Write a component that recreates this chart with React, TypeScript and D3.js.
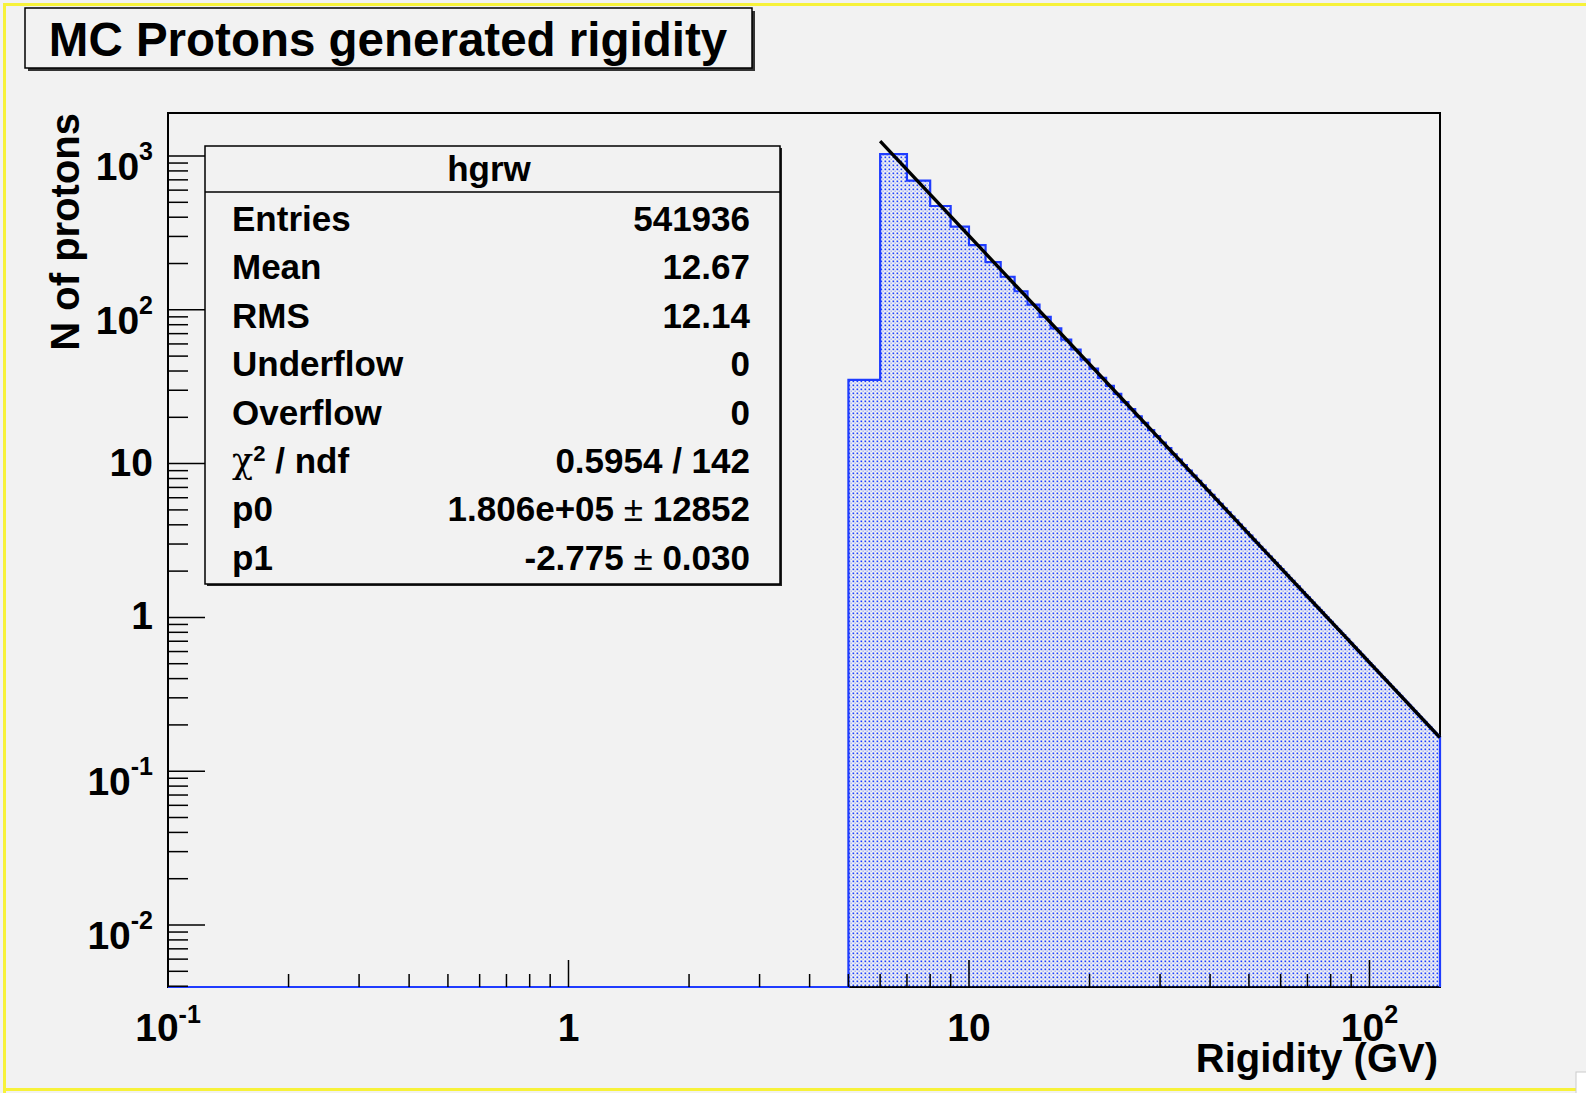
import React from "react";
import * as d3 from "d3";

// histogram hgrw: 1 GV wide bins starting at 0 GV
const title = "MC Protons generated rigidity";
const xTitle = "Rigidity (GV)";
const yTitle = "N of protons";
const firstBin = 0;
const binWidth = 1;
const counts = [
    0, 0, 0, 0, 0, 35,
    1030, 691, 473, 347, 263, 204, 164, 132, 108, 90.1,
    75.8, 64.0, 55.2, 47.4, 41.5, 36.1, 32.0, 28.4, 25.1, 22.6,
    20.3, 18.4, 16.5, 15.1, 13.7, 12.6, 11.5, 10.6, 9.78, 9.0,
    8.36, 7.73, 7.21, 6.69, 6.26, 5.84, 5.48, 5.12, 4.82, 4.52,
    4.27, 4.01, 3.8, 3.58, 3.4, 3.2, 3.05, 2.88, 2.75, 2.6,
    2.49, 2.36, 2.26, 2.15, 2.06, 1.96, 1.88, 1.79, 1.73, 1.64,
    1.59, 1.51, 1.46, 1.39, 1.35, 1.29, 1.25, 1.19, 1.16, 1.11,
    1.08, 1.03, 1.0, 0.96, 0.934, 0.896, 0.873, 0.838, 0.817, 0.785,
    0.766, 0.736, 0.719, 0.691, 0.676, 0.65, 0.636, 0.612, 0.599, 0.577,
    0.565, 0.545, 0.534, 0.515, 0.505, 0.487, 0.478, 0.462, 0.453, 0.438,
    0.43, 0.416, 0.408, 0.395, 0.388, 0.376, 0.369, 0.358, 0.351, 0.341,
    0.335, 0.325, 0.32, 0.31, 0.305, 0.296, 0.291, 0.283, 0.279, 0.271,
    0.267, 0.259, 0.255, 0.248, 0.245, 0.238, 0.235, 0.228, 0.225, 0.219,
    0.216, 0.21, 0.208, 0.202, 0.199, 0.194, 0.192, 0.187, 0.184, 0.18,
    0.177, 0.173, 0.171, 0.167,
];

// power law fit p0 * x^p1
const fitRange = [6, 150];
const fitP0 = 1.806e5;
const fitP1 = -2.775;

const statsName = "hgrw";
const statsLabels = ["Entries", "Mean", "RMS", "Underflow", "Overflow", "chi", "p0", "p1"];
const statsValues = ["541936", "12.67", "12.14", "0", "0", "0.5954 / 142", "1.806e+05 ± 12852", "-2.775 ± 0.030"];

const xTicks = [0.1, 1, 10, 100];
const xTickBase = ["10", "1", "10", "10"];
const xTickExp = ["-1", "", "", "2"];
const yTicks = [0.01, 0.1, 1, 10, 100, 1000];
const yTickBase = ["10", "10", "1", "10", "10", "10"];
const yTickExp = ["-2", "-1", "", "", "2", "3"];

const W = 1586;
const H = 1093;
const FONT = "'Liberation Sans', Arial, Helvetica, sans-serif";
const left = 168, right = 1440, top = 113, bottom = 987;

const x = d3.scaleLog().domain([0.1, 150]).range([left, right]);
const y = d3.scaleLog().domain([0.003953, 1904]).range([bottom, top]);

function minorTicks(scale) {
    const [a, b] = scale.domain();
    const out = [];
    for (let k = Math.floor(Math.log10(a)); k <= Math.ceil(Math.log10(b)); k++) {
        for (let m = 2; m <= 9; m++) {
            const v = m * Math.pow(10, k);
            if (v > a && v < b) out.push(v);
        }
    }
    return out;
}

export default function App() {
    const [xmin, xmax] = x.domain();
    const ymin = y.domain()[0];
    const pts = counts.map((v, i) => [Math.max(firstBin + i * binWidth, xmin), Math.max(v, ymin)]);
    const lastHi = firstBin + counts.length * binWidth;
    pts.push([Math.min(lastHi, xmax), Math.max(counts[counts.length - 1], ymin)]);
    const outlinePts = [...pts, [Math.min(lastHi, xmax), ymin]];

    const line = d3.line().x((d) => x(d[0])).y((d) => y(d[1])).curve(d3.curveStepAfter);
    const area = d3.area().x((d) => x(d[0])).y0(bottom).y1((d) => y(d[1])).curve(d3.curveStepAfter);
    const fitLine = d3.line().x((d) => x(d)).y((d) => y(fitP0 * Math.pow(d, fitP1)));

    const rowY = (i) => 231 + i * 48.4;

    return (
        <svg width={W} height={H} style={{ position: "absolute", left: 0, top: 0 }} fontFamily={FONT} fontWeight="bold">
            <defs>
                <pattern id="dots" width={4} height={4} patternUnits="userSpaceOnUse">
                    <rect x={0.5} y={0.5} width={1.7} height={1.7} fill="#1b40ff" />
                    <rect x={2.6} y={2.6} width={1.1} height={1.1} fill="#6a82ff" />
                </pattern>
                <clipPath id="frame">
                    <rect x={left} y={top - 40} width={right - left + 2} height={bottom - top + 42} />
                </clipPath>
            </defs>
            <rect width={W} height={H} fill="#f2f2f2" />
            <rect x={3} y={3} width={W} height={3} fill="#f7f23a" />
            <rect x={3} y={3} width={3} height={H} fill="#f7f23a" />
            <rect x={3} y={1088} width={1573} height={3} fill="#f7f23a" />
            <rect x={1576} y={1072} width={12} height={24} fill="#fff" stroke="#ccc" />

            {/* frame */}
            <rect x={left} y={top} width={right - left} height={bottom - top} fill="none" stroke="#000" strokeWidth={2} />

            {/* histogram */}
            <g clipPath="url(#frame)">
                <path d={area(pts)} fill="url(#dots)" />
                <path d={line(outlinePts)} fill="none" stroke="#1f3cff" strokeWidth={2.2} />
                <path d={fitLine(fitRange)} fill="none" stroke="#000" strokeWidth={3.4} />
            </g>

            {/* x axis ticks */}
            {minorTicks(x).map((v) => (
                <line key={"xm" + v} x1={x(v)} x2={x(v)} y1={bottom} y2={bottom - 13} stroke="#000" strokeWidth={1.5} />
            ))}
            {xTicks.map((v, i) => (
                <g key={"xt" + v}>
                    <line x1={x(v)} x2={x(v)} y1={bottom} y2={bottom - 27} stroke="#000" strokeWidth={1.5} />
                    <text x={x(v)} y={1041} textAnchor="middle" fontSize={39}>
                        {xTickBase[i]}
                        {xTickExp[i] && <tspan dy={-18} fontSize={25}>{xTickExp[i]}</tspan>}
                    </text>
                </g>
            ))}

            {/* y axis ticks */}
            {minorTicks(y).map((v) => (
                <line key={"ym" + v} x1={left} x2={left + 20} y1={y(v)} y2={y(v)} stroke="#000" strokeWidth={1.5} />
            ))}
            {yTicks.map((v, i) => (
                <g key={"yt" + v}>
                    <line x1={left} x2={left + 37} y1={y(v)} y2={y(v)} stroke="#000" strokeWidth={1.5} />
                    <text x={153} y={y(v) + (yTickExp[i] ? 24 : 12)} textAnchor="end" fontSize={39}>
                        {yTickBase[i]}
                        {yTickExp[i] && <tspan dy={-20} fontSize={25}>{yTickExp[i]}</tspan>}
                    </text>
                </g>
            ))}

            {/* axis titles */}
            <text x={1438} y={1072} textAnchor="end" fontSize={40}>{xTitle}</text>
            <text transform={`translate(79,${top}) rotate(-90)`} textAnchor="end" fontSize={40}>{yTitle}</text>

            {/* title box */}
            <rect x={28} y={11} width={727} height={60} fill="#333" />
            <rect x={25} y={8} width={727} height={60} fill="#f2f2f2" stroke="#000" strokeWidth={1.5} />
            <text x={388} y={56} textAnchor="middle" fontSize={47.5}>{title}</text>

            {/* stats box */}
            <rect x={207} y={148} width={575} height={438} fill="#222" />
            <rect x={205} y={146} width={575} height={438} fill="#f2f2f2" stroke="#000" strokeWidth={1.5} />
            <line x1={205} x2={780} y1={192} y2={192} stroke="#000" strokeWidth={1.5} />
            <text x={489} y={181} textAnchor="middle" fontSize={35}>{statsName}</text>
            {statsLabels.map((lab, i) => (
                <text key={lab} x={232} y={rowY(i)} fontSize={35}>
                    {lab === "chi" ? (
                        <>
                            <tspan fontWeight="normal" fontFamily="'DejaVu Serif', serif">χ</tspan>
                            <tspan dy={-12} fontSize={22}>2</tspan>
                            <tspan dy={12}> / ndf</tspan>
                        </>
                    ) : lab}
                </text>
            ))}
            {statsValues.map((val, i) => {
                const parts = val.split(" ± ");
                return (
                    <text key={"v" + i} x={750} y={rowY(i)} textAnchor="end" fontSize={35}>
                        {parts[0]}
                        {parts.length > 1 && (
                            <>
                                <tspan fontWeight="normal">{" ± "}</tspan>
                                {parts[1]}
                            </>
                        )}
                    </text>
                );
            })}
        </svg>
    );
}
